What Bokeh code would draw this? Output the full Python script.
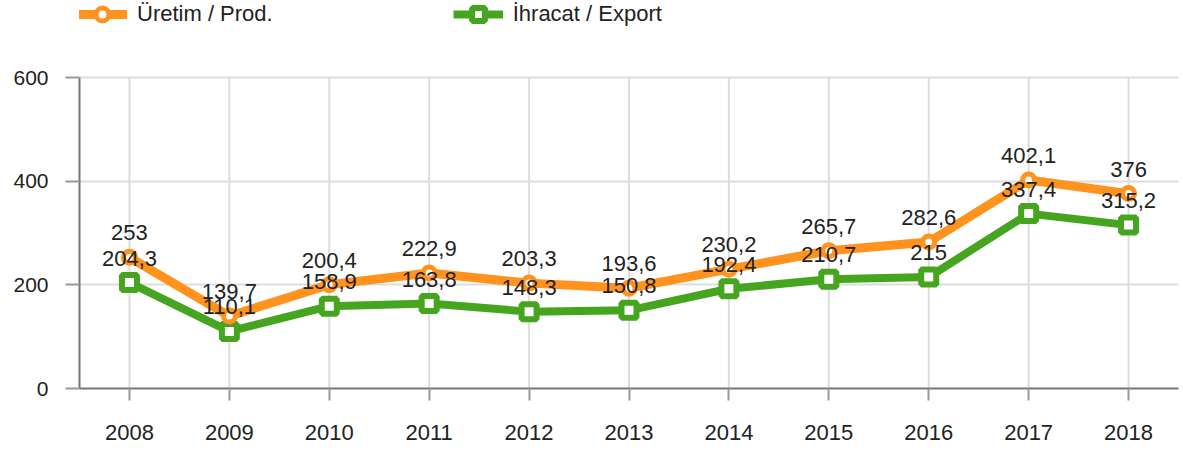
from bokeh.plotting import figure
from bokeh.models import ColumnDataSource, FixedTicker, Range1d, Legend, LegendItem, LabelSet
from bokeh.core.properties import value
from bokeh.embed import file_html
from bokeh.resources import INLINE

years = [2008, 2009, 2010, 2011, 2012, 2013, 2014, 2015, 2016, 2017, 2018]
production = [253, 139.7, 200.4, 222.9, 203.3, 193.6, 230.2, 265.7, 282.6, 402.1, 376]
export = [204.3, 110.1, 158.9, 163.8, 148.3, 150.8, 192.4, 210.7, 215, 337.4, 315.2]
y_ticks = [0, 200, 400, 600]
series_names = ["Üretim / Prod.", "İhracat / Export"]

ORANGE = "#FF931E"
GREEN = "#46A51E"
FONT = "Liberation Sans"
TEXT = "#222222"

# plot frame geometry (pixels)
FRAME_H = 388          # frame spans the full height above the x axis
TOP_PAD = 77           # room above the value axis max, used by the legend
Y_MAX = max(y_ticks)
y_end = Y_MAX * FRAME_H / (FRAME_H - TOP_PAD)


def fmt(v):
    s = ("%.1f" % v).rstrip("0").rstrip(".")
    return s.replace(".", ",")


src_p = ColumnDataSource(dict(x=years, y=production, lab=[fmt(v) for v in production]))
src_e = ColumnDataSource(dict(x=years, y=export, lab=[fmt(v) for v in export]))
src_g = ColumnDataSource(dict(x=years, y0=[min(y_ticks)] * len(years), y1=[Y_MAX] * len(years)))

p = figure(width=1183, height=452, output_backend="svg", toolbar_location=None,
           x_range=Range1d(2007.5, 2018.5), y_range=Range1d(0, y_end))
p.min_border_left = 79
p.min_border_right = 5
p.min_border_top = 0
p.min_border_bottom = 452 - FRAME_H
p.outline_line_color = None
p.background_fill_color = "white"
p.border_fill_color = "white"

# axes
p.xaxis.ticker = FixedTicker(ticks=years)
p.yaxis.ticker = FixedTicker(ticks=y_ticks)
p.yaxis.bounds = (min(y_ticks), Y_MAX)
p.xaxis.minor_tick_line_color = None
p.yaxis.minor_tick_line_color = None
for ax in (p.xaxis, p.yaxis):
    ax.axis_line_color = "#777777"
    ax.axis_line_width = 2
    ax.major_tick_line_color = "#999999"
    ax.major_tick_line_width = 2
    ax.major_tick_in = 0
    ax.major_label_text_font = FONT
    ax.major_label_text_color = TEXT
p.xaxis.major_label_text_font_size = "22px"
p.yaxis.major_label_text_font_size = "21px"
p.yaxis.major_tick_out = 14
p.xaxis.major_tick_out = 12
p.yaxis.major_label_standoff = 17
p.xaxis.major_label_standoff = 24

p.xgrid.visible = False
p.ygrid.ticker = FixedTicker(ticks=y_ticks)
p.ygrid.grid_line_color = "#DDDDDD"
p.ygrid.grid_line_width = 2

# vertical grid lines limited to the value axis extent
p.segment(x0="x", y0="y0", x1="x", y1="y1", source=src_g, line_color="#DDDDDD", line_width=2)

# series
le = p.line("x", "y", source=src_e, line_color=GREEN, line_width=8, line_join="round")
se = p.scatter("x", "y", source=src_e, marker="square", size=15, fill_color="white",
               line_color=GREEN, line_width=6)
lp = p.line("x", "y", source=src_p, line_color=ORANGE, line_width=9, line_join="round")
sp = p.scatter("x", "y", source=src_p, marker="circle", size=12, fill_color="white",
               line_color=ORANGE, line_width=5)

for src in (src_p, src_e):
    p.add_layout(LabelSet(x="x", y="y", text="lab", source=src, text_align="center",
                          text_baseline="alphabetic", y_offset=17,
                          text_font=value(FONT), text_font_size=value("22px"),
                          text_color=value(TEXT)))

legend = Legend(items=[LegendItem(label=series_names[0], renderers=[lp, sp]),
                       LegendItem(label=series_names[1], renderers=[le, se])],
                location=(-2, FRAME_H - 30), orientation="horizontal",
                glyph_width=50, glyph_height=32, label_standoff=10, spacing=180,
                padding=0, margin=0, border_line_color=None, background_fill_alpha=0,
                label_text_font=FONT, label_text_font_size="22px", label_text_color=TEXT)
p.add_layout(legend, "center")

open("out.html", "w").write(file_html(p, INLINE))
